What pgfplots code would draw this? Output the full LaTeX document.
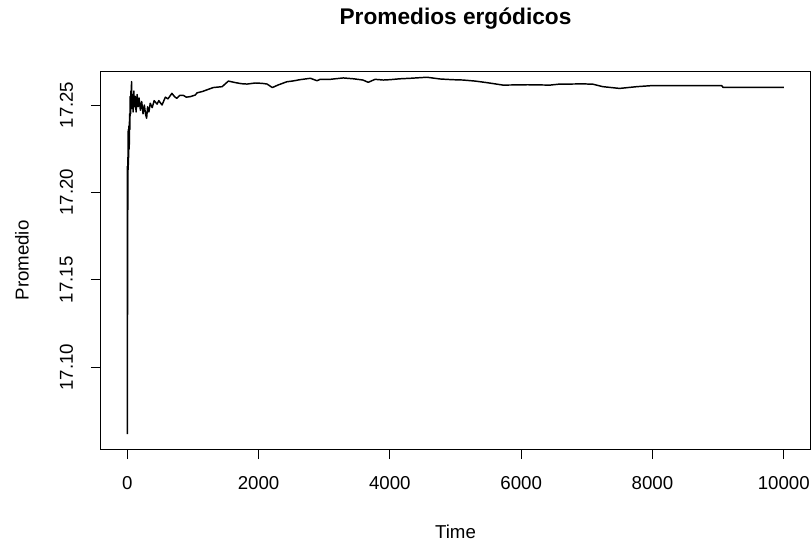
\documentclass[border=0pt]{standalone}
\usepackage{pgfplots}
\pgfplotsset{compat=1.18}
\usepackage{fontspec}
\setmainfont{Liberation Sans}
\usetikzlibrary{calc}
\pgfplotstableread{
t v
1 17.0616
2 17.128
3 17.215
4 17.13
5 17.20
6 17.17
8 17.22
10 17.19
12 17.235
15 17.213
18 17.236
22 17.22
26 17.238
30 17.225
35 17.245
40 17.236
45 17.255
50 17.245
55 17.258
60 17.25
65 17.2634
70 17.248
80 17.256
90 17.246
100 17.258
110 17.249
120 17.255
135 17.246
150 17.256
165 17.249
180 17.254
200 17.247
220 17.252
240 17.245
260 17.250
280 17.2445
295 17.2424
310 17.249
330 17.246
350 17.251
380 17.2485
410 17.2525
455 17.2505
480 17.2525
530 17.250
580 17.2545
620 17.2535
680 17.2567
720 17.2548
755 17.2538
800 17.2555
855 17.2555
900 17.2545
960 17.2548
1035 17.2557
1065 17.257
1150 17.2578
1200 17.2585
1310 17.260
1445 17.2605
1540 17.2637
1650 17.2628
1740 17.2622
1825 17.262
1950 17.2626
2055 17.2624
2130 17.2620
2210 17.260
2300 17.2615
2430 17.2633
2530 17.2638
2630 17.2645
2790 17.2653
2890 17.2639
2938 17.2647
3090 17.2647
3290 17.2655
3450 17.2650
3590 17.2643
3670 17.2630
3775 17.2647
3900 17.2643
4000 17.2645
4150 17.2650
4310 17.2653
4565 17.2659
4765 17.2649
4950 17.2645
5115 17.2643
5300 17.2637
5480 17.2628
5725 17.2614
6100 17.2616
6440 17.2614
6590 17.262
6740 17.262
6950 17.2621
7095 17.2619
7245 17.2605
7500 17.2595
7760 17.2605
7990 17.2611
9055 17.2611
9075 17.2601
10000 17.2601
}\datatable
\begin{document}
\begin{tikzpicture}
\begin{axis}[
  name=ax,
  scale only axis,
  width=531.75pt, height=282.75pt,
  xmin=-400, xmax=10400,
  ymin=17.0531, ymax=17.2689,
  axis line style={line width=0.75pt},
  tick style={line width=0.75pt, black},
  tick align=outside,
  major tick length=7.5pt,
  xtick={0,2000,4000,6000,8000,10000},
  ytick={17.10,17.15,17.20,17.25},
  xtick pos=bottom, ytick pos=left,
  scaled ticks=false,
  /pgf/number format/assume math mode=true,
  xticklabel={\pgfmathprintnumber[fixed,1000 sep={}]{\tick}},
  yticklabel={\pgfmathprintnumber[fixed,fixed zerofill,precision=2]{\tick}},
  ticklabel style={font=\fontsize{14}{16}\selectfont},
  xticklabel style={anchor=center, yshift=-18.4pt},
  yticklabel style={anchor=center, xshift=-18.5pt, rotate=90},
  label style={font=\fontsize{14}{16}\selectfont},
  xlabel={Time},
  ylabel={Promedio},
  xlabel style={at={(axis description cs:0.5,-0.2202)}, anchor=center},
  ylabel style={at={(axis description cs:-0.1114,0.5)}, anchor=center, rotate=0},
  title={\bfseries Promedios ergódicos},
  title style={at={(axis description cs:0.5,1.1193)}, anchor=center, font=\fontsize{17}{19}\selectfont},
]
\addplot[black, line width=1.1pt, line join=round] table[x=t, y=v] {\datatable};
\end{axis}
\pgfresetboundingbox
\path[use as bounding box] ($(ax.south west)+(-75.75pt,-72.75pt)$) rectangle ($(ax.north east)+(1.5pt,54pt)$);
\end{tikzpicture}
\end{document}
